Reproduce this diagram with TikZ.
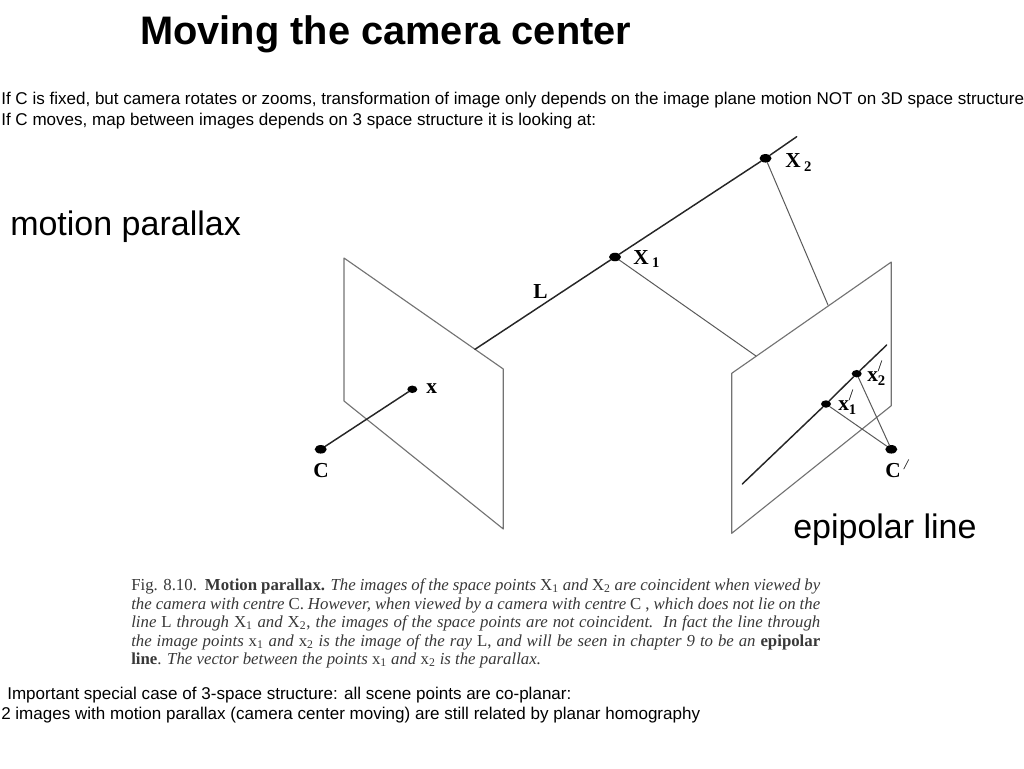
\documentclass[tikz,border=0pt]{standalone}
\usepackage{fontspec}
\setmainfont{Liberation Sans}
\newfontfamily\figfont{Liberation Serif}
\usetikzlibrary{shapes.geometric}
\newcommand{\subfig}[1]{\raisebox{-0.35ex}{\fontsize{11}{13}\selectfont #1}}
\newcommand{\primefig}{\rlap{\raisebox{1.05ex}{\fontsize{12}{13}\selectfont\mdseries /}}}
\newcommand{\capline}[1]{\makebox[516.75pt][s]{#1}}
\tikzset{
  dotpt/.style={ellipse,fill=black,inner sep=0pt,minimum width=9pt,minimum height=6.4pt},
  smalldot/.style={ellipse,fill=black,inner sep=0pt,minimum width=7.5pt,minimum height=5.6pt},
  planeline/.style={line width=0.85pt,color=black!55},
  rayline/.style={line width=0.75pt,color=black!65},
  thickline/.style={line width=1.1pt,color=black!85},
  figlabel/.style={font=\figfont\bfseries\fontsize{16}{18}\selectfont,inner sep=0pt,anchor=west},
  sidetext/.style={font=\fontsize{12.78}{15}\selectfont,inner sep=0pt,anchor=west},
  bigtext/.style={font=\fontsize{25.5}{30}\selectfont,inner sep=0pt,anchor=west},
  caption/.style={font=\figfont\fontsize{12.6}{14}\selectfont,text=black!78,inner sep=0pt,anchor=west}
}
\begin{document}
\begin{tikzpicture}[line cap=round,line join=round,x=0.75pt,y=-0.75pt]
  \useasboundingbox (0,0) rectangle (1024,768);
  \node [font=\bfseries\fontsize{29.85}{34}\selectfont,inner sep=0pt,anchor=west] (title) at (140,34) {Moving the camera center};
  \node [sidetext] (intro1) at (1,100) {If C is fixed, but camera rotates or zooms, transformation of image only depends on the image plane motion NOT on 3D space structure};
  \node [sidetext] (intro2) at (1,121) {If C moves, map between images depends on 3 space structure it is looking at:};
  \node [bigtext] (parallax) at (10,227) {motion parallax};
  \node [bigtext] (epipolar) at (793,530) {epipolar line};
  \coordinate (la) at (344,258);
  \coordinate (lb) at (503.3,369);
  \coordinate (lc) at (503.3,529);
  \coordinate (ld) at (344,401);
  \coordinate (ra) at (731.7,373.3);
  \coordinate (rb) at (891.3,262);
  \coordinate (rc) at (891.3,405.7);
  \coordinate (rd) at (731.7,533.3);
  \coordinate (lhit) at (475,349.3);
  \coordinate (lend) at (796.7,136.7);
  \coordinate (hita) at (756,356);
  \coordinate (hitb) at (828,305);
  \coordinate (epia) at (742.3,484);
  \coordinate (epib) at (886.7,345);
  \node [dotpt] (xa) at (615,257) {};
  \node [dotpt] (xb) at (765.5,158.3) {};
  \node [smalldot] (xl) at (412.3,389.3) {};
  \node [dotpt] (cl) at (320.7,449.3) {};
  \node [smalldot] (xra) at (826,404) {};
  \node [smalldot] (xrb) at (856.7,373.7) {};
  \node [dotpt] (cr) at (891.3,449.3) {};
  \draw [planeline] (la)-- (lb)-- (lc)-- (ld)-- cycle;
  \draw [planeline] (ra)-- (rb)-- (rc)-- (rd)-- cycle;
  \draw [thickline] (lhit)-- (xa);
  \draw [thickline] (xa)-- (xb);
  \draw [thickline] (xb)-- (lend);
  \draw [thickline] (cl)-- (xl);
  \draw [thickline] (epia)-- (xra);
  \draw [thickline] (xra)-- (xrb);
  \draw [thickline] (xrb)-- (epib);
  \draw [rayline] (xa)-- (hita);
  \draw [rayline] (xb)-- (hitb);
  \draw [rayline] (xra)-- (cr);
  \draw [rayline] (xrb)-- (cr);
  \node [figlabel] (lblxb) at (785,162.5) {X\,\subfig{2}};
  \node [figlabel] (lblxa) at (633,259) {X\,\subfig{1}};
  \node [figlabel] (lblL) at (533,292) {L};
  \node [figlabel] (lblx) at (426,389) {x};
  \node [figlabel] (lblc) at (313,471) {C};
  \node [figlabel] (lblxrb) at (867,373) {x\primefig\subfig{2}};
  \node [figlabel] (lblxra) at (838,402) {x\primefig\subfig{1}};
  \node [figlabel] (lblcr) at (885,469) {C\,\raisebox{0.8ex}{\fontsize{11}{13}\selectfont\mdseries\itshape /}};
  \node [caption] (capa) at (131,586) {\capline{Fig. 8.10.\ \ \textbf{Motion parallax.} \textit{The images of the space points} X\textsubscript{1} \textit{and} X\textsubscript{2} \textit{are coincident when viewed by}}};
  \node [caption] (capb) at (131,605) {\capline{\textit{the camera with centre} C. \textit{However, when viewed by a camera with centre} C , \textit{which does not lie on the}}};
  \node [caption] (capc) at (131,623) {\capline{\textit{line} L \textit{through} X\textsubscript{1} \textit{and} X\textsubscript{2}, \textit{the images of the space points are not coincident.\ \ In fact the line through}}};
  \node [caption] (capd) at (131,642) {\capline{\textit{the image points} x\textsubscript{1} \textit{and} x\textsubscript{2} \textit{is the image of the ray} L, \textit{and will be seen in chapter 9 to be an} \textbf{epipolar}}};
  \node [caption] (cape) at (131,660) {\textbf{line}. \textit{The vector between the points} x\textsubscript{1} \textit{and} x\textsubscript{2} \textit{is the parallax.}};
  \node [sidetext] (outroa) at (7,695) {Important special case of 3-space structure: all scene points are co-planar:};
  \node [sidetext] (outrob) at (1,715) {2 images with motion parallax (camera center moving) are still related by planar homography};
\end{tikzpicture}
\end{document}
